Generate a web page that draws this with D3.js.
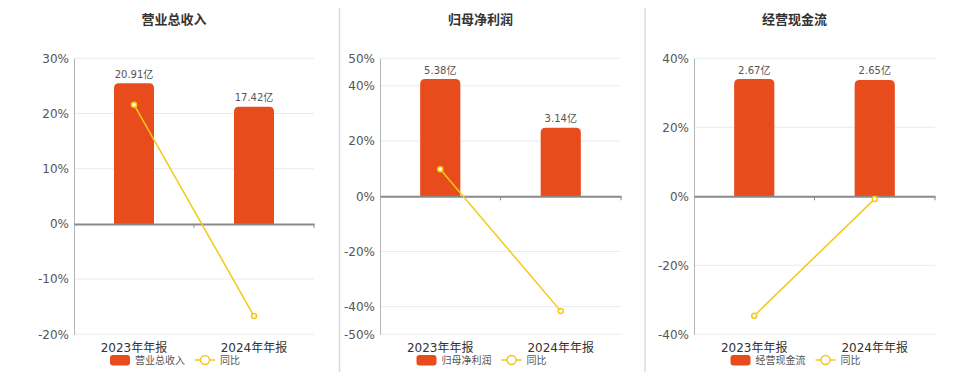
<!DOCTYPE html>
<meta charset="utf-8">
<style>
body {
  margin: 0;
  background: #fff;
  font-family: "DejaVu Sans", "Noto Sans CJK SC", sans-serif;
}
.grid line {
  stroke: #e7ebf4;
  stroke-width: 1;
}
</style>
<body>
<script src="https://cdn.jsdelivr.net/npm/d3@7"></script>
<script>

var width = 960,
    height = 372;

var categories = ["2023年年报", "2024年年报"];

var titles = ["营业总收入", "归母净利润", "经营现金流"];

var barValues = [[20.91, 17.42], [5.38, 3.14], [2.67, 2.65]];
var barLabels = [["20.91亿", "17.42亿"], ["5.38亿", "3.14亿"], ["2.67亿", "2.65亿"]];

var yoyValues = [[21.6, -16.69], [9.8, -41.6], [-34.6, -0.75]];

var yTicks = [[30, 20, 10, 0, -10, -20], [50, 40, 20, 0, -20, -40, -50], [40, 20, 0, -20, -40]];

var legendYoy = "同比";

var barColor = "#e84c1d",
    lineColor = "#f4c914";

// where each panel sits
var panels = [
  {left: 74, right: 314},
  {left: 380, right: 621},
  {left: 694, right: 935}
];
var plotTop = 58.3, plotBottom = 334.3;

var svg = d3.select("body").append("svg")
    .attr("width", width)
    .attr("height", height);

// dividers
[339.5, 645].forEach(function(x) {
  svg.append("line")
      .attr("x1", x).attr("x2", x)
      .attr("y1", 8).attr("y2", height)
      .attr("stroke", "#dcdcdc")
      .attr("stroke-width", 1.5);
});

function barPath(x, y, w, y0, r) {
  var h = y0 - y;
  r = Math.min(r, h / 2, w / 2);
  return "M" + x + "," + y0 +
    "V" + (y + r) +
    "Q" + x + "," + y + " " + (x + r) + "," + y +
    "H" + (x + w - r) +
    "Q" + (x + w) + "," + y + " " + (x + w) + "," + (y + r) +
    "V" + y0 + "Z";
}

panels.forEach(function(p, i) {
  var g = svg.append("g");
  var ticks = yTicks[i];

  var y = d3.scaleLinear()
      .domain(d3.extent(ticks))
      .range([plotBottom, plotTop]);

  var x = d3.scaleBand()
      .domain(categories)
      .range([p.left, p.right])
      .padding(0);

  // bars use their own hidden scale, sharing the zero line
  var maxBar = d3.max(barValues[i]);
  var yb = d3.scaleLinear()
      .domain([0, maxBar / 0.85])
      .range([y(0), plotTop]);

  // title
  g.append("text")
      .attr("x", (p.left + p.right) / 2 - 20)
      .attr("y", 24)
      .attr("text-anchor", "middle")
      .attr("font-size", 13)
      .attr("font-weight", "bold")
      .attr("fill", "#333")
      .text(titles[i]);

  // grid
  g.append("g")
      .attr("class", "grid")
    .selectAll("line")
      .data(ticks.filter(function(t) { return t !== 0; }))
    .enter().append("line")
      .attr("x1", p.left)
      .attr("x2", p.right)
      .attr("y1", function(d) { return y(d); })
      .attr("y2", function(d) { return y(d); });

  // y axis
  var yAxis = d3.axisLeft(y)
      .tickValues(ticks)
      .tickSize(0)
      .tickPadding(5)
      .tickFormat(function(d) { return d + "%"; });

  var ya = g.append("g")
      .attr("transform", "translate(" + p.left + ",0)")
      .call(yAxis);
  ya.select(".domain").attr("stroke", "#b4b4b4").attr("stroke-width", 1);
  ya.selectAll("text")
      .attr("font-size", 12)
      .attr("font-family", "DejaVu Sans, sans-serif")
      .attr("fill", "#555");

  // bars
  var bw = x.bandwidth() / 3;
  g.selectAll(".bar")
      .data(barValues[i])
    .enter().append("path")
      .attr("class", "bar")
      .attr("fill", barColor)
      .attr("d", function(d, j) {
        var cx = x(categories[j]) + x.bandwidth() / 2;
        return barPath(cx - bw / 2, yb(d), bw, y(0), 5);
      });

  g.selectAll(".barlabel")
      .data(barValues[i])
    .enter().append("text")
      .attr("x", function(d, j) { return x(categories[j]) + x.bandwidth() / 2; })
      .attr("y", function(d) { return yb(d) - 5.5; })
      .attr("text-anchor", "middle")
      .attr("font-size", 10)
      .attr("fill", "#555")
      .text(function(d, j) { return barLabels[i][j]; });

  // x axis on zero
  var xAxis = d3.axisBottom(x)
      .tickSize(0)
      .tickFormat("");
  var xa = g.append("g")
      .attr("transform", "translate(0," + y(0) + ")")
      .call(xAxis);
  xa.select(".domain").attr("stroke", "#8a8a8a").attr("stroke-width", 2);
  xa.selectAll(".tick").remove();
  xa.selectAll(".sep")
      .data(categories)
    .enter().append("line")
      .attr("x1", function(d) { return x(d) + x.bandwidth(); })
      .attr("x2", function(d) { return x(d) + x.bandwidth(); })
      .attr("y1", 0)
      .attr("y2", 4)
      .attr("stroke", "#8a8a8a");

  // category labels at the bottom
  g.selectAll(".cat")
      .data(categories)
    .enter().append("text")
      .attr("x", function(d) { return x(d) + x.bandwidth() / 2; })
      .attr("y", 351.5)
      .attr("text-anchor", "middle")
      .attr("font-size", 12)
      .attr("fill", "#333")
      .text(function(d) { return d; });

  // yoy line
  var line = d3.line()
      .x(function(d, j) { return x(categories[j]) + x.bandwidth() / 2; })
      .y(function(d) { return y(d); });

  g.append("path")
      .datum(yoyValues[i])
      .attr("d", line)
      .attr("fill", "none")
      .attr("stroke", lineColor)
      .attr("stroke-width", 1.5);

  g.selectAll(".pt")
      .data(yoyValues[i])
    .enter().append("circle")
      .attr("cx", function(d, j) { return x(categories[j]) + x.bandwidth() / 2; })
      .attr("cy", function(d) { return y(d); })
      .attr("r", 2.5)
      .attr("fill", "#fff")
      .attr("stroke", lineColor)
      .attr("stroke-width", 1.5);

  // legend
  var lx = (p.left + p.right) / 2 - 84;
  var lg = g.append("g").attr("transform", "translate(" + lx + ",360)");
  lg.append("rect")
      .attr("x", 0).attr("y", -5)
      .attr("width", 20).attr("height", 10.5)
      .attr("rx", 3)
      .attr("fill", barColor);
  var t1 = lg.append("text")
      .attr("x", 25).attr("y", 4)
      .attr("font-size", 10)
      .attr("fill", "#555")
      .text(titles[i]);
  var tw = t1.node().getComputedTextLength();
  var sx = 25 + tw + 10;
  lg.append("line")
      .attr("x1", sx).attr("x2", sx + 20)
      .attr("y1", 0).attr("y2", 0)
      .attr("stroke", lineColor)
      .attr("stroke-width", 1.5);
  lg.append("circle")
      .attr("cx", sx + 10).attr("cy", 0)
      .attr("r", 4.5)
      .attr("fill", "#fff")
      .attr("stroke", lineColor)
      .attr("stroke-width", 1.5);
  lg.append("text")
      .attr("x", sx + 25).attr("y", 4)
      .attr("font-size", 10)
      .attr("fill", "#555")
      .text(legendYoy);
});

</script>
